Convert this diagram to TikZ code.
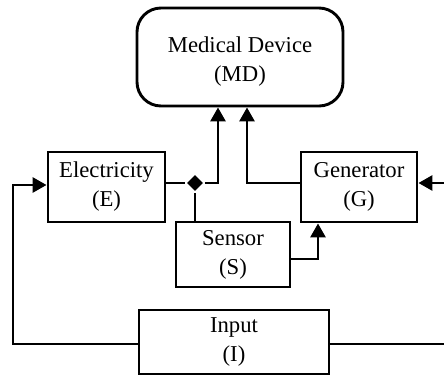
\documentclass[tikz,border=0pt]{standalone}
\usepackage{fontspec}
\setmainfont{Liberation Serif}
\usetikzlibrary{arrows.meta,shapes.geometric}
\begin{document}
\begin{tikzpicture}[x=1bp,y=-1bp,line width=2.9bp,
  txt/.style={align=center, inner sep=0pt,
    font=\fontsize{22.7bp}{29bp}\selectfont},
  box/.style={draw, txt},
  flow/.style={-{Triangle[length=14bp,width=15bp]}},
  junction/.style={diamond, fill, inner sep=0pt, minimum size=17bp}]
\useasboundingbox (0,0) rectangle (444,376);

% blocks
\node[draw, rounded corners=24bp, minimum width=206bp, minimum height=98bp,
  label={[txt, yshift=-5bp]center:Medical Device\\(MD)}] (MD) at (240,57) {};
\node[box, minimum width=117bp, minimum height=70bp] (E) at (106.5,187) {Electricity\\(E)};
\node[box, minimum width=116bp, minimum height=70bp] (G) at (359,187) {Generator\\(G)};
\node[box, minimum width=114bp, minimum height=65bp] (S) at (233,254.5) {Sensor\\(S)};
\node[box, minimum width=190bp, minimum height=64bp] (I) at (234,342) {Input\\(I)};

% branch point and helper columns
\node[junction] (j) at (195,183) {};
\coordinate (cE) at (218,0);
\coordinate (cG) at (247,0);
\coordinate (cS) at (318,0);
\coordinate (lft) at (13,185);
\coordinate (rgt) at (452,183);

% connectors
\draw (E.east |- j) -- (j);
\draw (S.north -| j) -- (j);
\draw[flow] (j) -| (cE |- MD.south);
\draw[flow] (G.west |- j) -| (cG |- MD.south);
\draw[flow] (S.east |- 0,259) -| (cS |- G.south);
\draw[flow] (I.west |- 0,344) -| (lft) -- (E.west |- lft);
\draw[flow] (I.east |- 0,344) -| (rgt) -- (G.east |- rgt);
\end{tikzpicture}
\end{document}
